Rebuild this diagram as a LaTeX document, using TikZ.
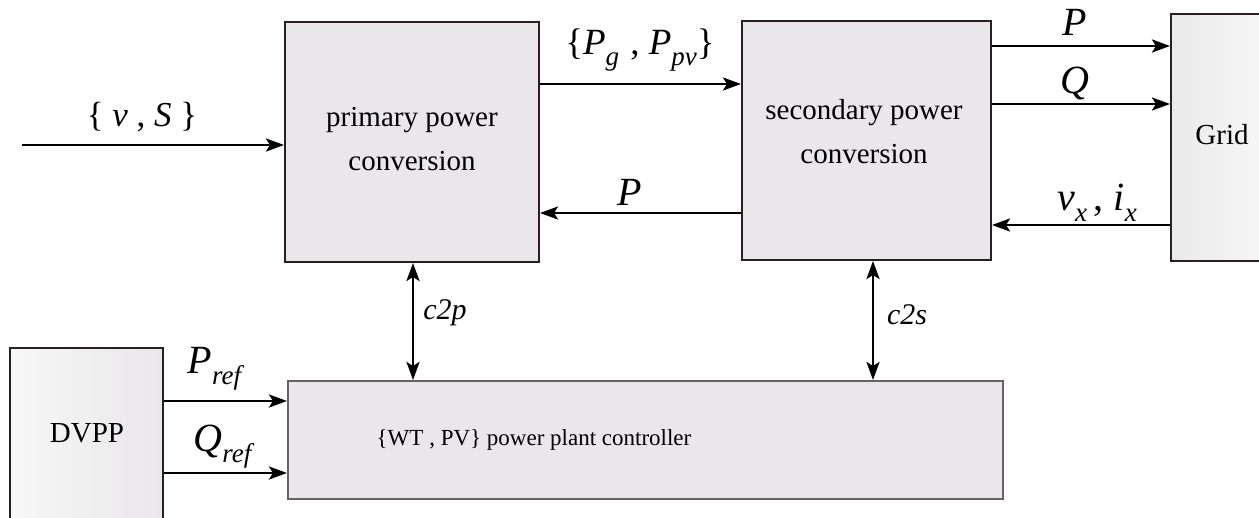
\documentclass[tikz,border=0pt]{standalone}
\usepackage{fontspec}
\setmainfont{Liberation Serif}
\usetikzlibrary{arrows.meta}
\definecolor{boxfill}{HTML}{E9E7E9}
\definecolor{boxline}{HTML}{2B1E1E}
\definecolor{ctlline}{HTML}{6A6262}
\newcommand\sbs[1]{\raisebox{-0.28em}{\fontsize{27}{27}\selectfont\textit{#1}}}
\begin{document}
\begin{tikzpicture}[x=1pt,y=-1pt,
  blk/.style={draw=boxline, line width=2pt, fill=boxfill, inner sep=0pt},
  btxt/.style={inner sep=0pt, align=center, font=\fontsize{29}{44}\selectfont},
  tip/.tip={Stealth[length=18pt,width=13pt,inset=4pt]},
  arr/.style={line width=2.8pt, -tip},
  darr/.style={line width=2.8pt, tip-tip},
  lbl/.style={inner sep=0pt, font=\fontsize{40}{40}\selectfont},
  slbl/.style={inner sep=0pt, font=\fontsize{30}{30}\selectfont\itshape}]
\useasboundingbox (0,0) rectangle (1259,518);
% blocks
\node[blk, minimum width=254pt, minimum height=240pt] (prim) at (412,142) {};
\node[btxt] (primtext) at (412,139) {primary power\\conversion};
\node[blk, minimum width=249pt, minimum height=239pt] (sec) at (866.5,140.5) {};
\node[btxt] (sectext) at (864,132) {secondary power\\conversion};
\node[blk, left color=boxfill!95!black!60!white, right color=white!97!black,
  minimum width=102pt, minimum height=247pt] (grid) at (1222,137.5) {};
\node[btxt] (gridtext) at (1222,135) {Grid};
\node[blk, left color=white!97!black, right color=boxfill, minimum width=153pt, minimum height=172pt] (dvpp) at (86.5,434) {};
\node[btxt] (dvpptext) at (87,433) {DVPP};
\node[blk, draw=ctlline, minimum width=715pt, minimum height=118pt] (ctl) at (645.5,440) {};
\node[inner sep=0pt, font=\fontsize{23}{23}\selectfont] (ctltext) at (534,440) {\{WT , PV\} power plant controller};
% reference coordinates
\coordinate (vin) at (22,145);
\coordinate (y84) at (0,84);
\coordinate (y213) at (0,213);
\coordinate (y46) at (0,46);
\coordinate (y104) at (0,104);
\coordinate (y225) at (0,225);
\coordinate (y401) at (0,401);
\coordinate (y473) at (0,473);
\coordinate (x413) at (413,0);
\coordinate (x873) at (873,0);
% connectors
\draw[arr] (vin) -- (vin -| prim.west);
\draw[arr] (prim.east |- y84) -- (sec.west |- y84);
\draw[arr] (sec.west |- y213) -- (prim.east |- y213);
\draw[arr] (sec.east |- y46) -- (grid.west |- y46);
\draw[arr] (sec.east |- y104) -- (grid.west |- y104);
\draw[arr] (grid.west |- y225) -- (sec.east |- y225);
\draw[arr] (dvpp.east |- y401) -- (ctl.west |- y401);
\draw[arr] (dvpp.east |- y473) -- (ctl.west |- y473);
\draw[darr] (prim.south -| x413) -- (ctl.north -| x413);
\draw[darr] (sec.south -| x873) -- (ctl.north -| x873);
% labels
\node[lbl, font=\fontsize{35}{35}\selectfont] (lvs) at (142,117) {\{ \textit{v} , \textit{S} \}};
\node[lbl, font=\fontsize{37}{37}\selectfont] (lpg) at (640,50) {\{\textit{P}\sbs{g}\hspace{0.3em}, \textit{P}\sbs{pv}\}};
\node[lbl] (lpb) at (630,192) {\textit{P}};
\node[lbl] (lp) at (1075,22) {\textit{P}};
\node[lbl] (lq) at (1075,84) {\textit{Q}};
\node[lbl] (lvi) at (1097,203) {\textit{v}\sbs{x}\,, \textit{i}\sbs{x}};
\node[lbl] (lpref) at (216,369) {\textit{P}\sbs{ref}};
\node[lbl] (lqref) at (224,447) {\textit{Q}\sbs{ref}};
\node[slbl] (lc2p) at (445,313) {c2p};
\node[slbl] (lc2s) at (907,315) {c2s};
\end{tikzpicture}
\end{document}
